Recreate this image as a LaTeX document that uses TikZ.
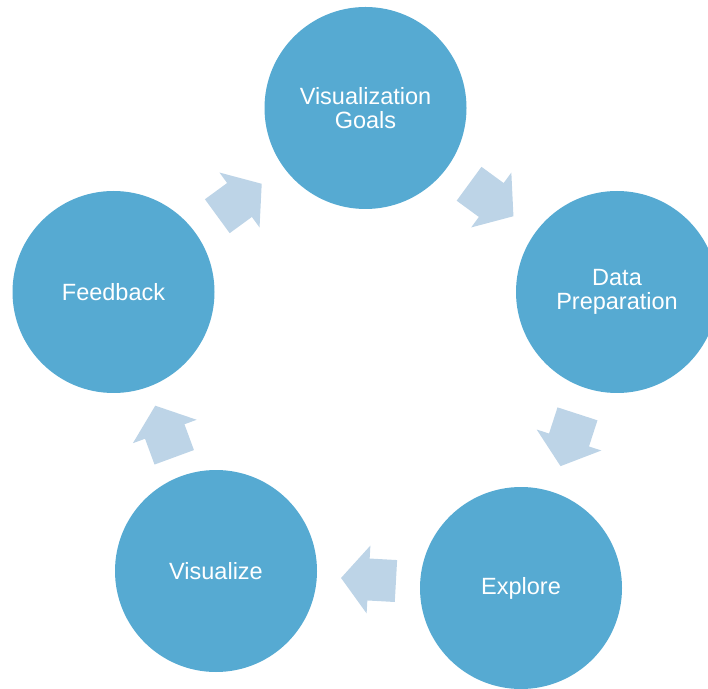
\documentclass[tikz,border=0pt]{standalone}
\usepackage{fontspec}
\setmainfont{Liberation Sans}
\usetikzlibrary{calc}
\definecolor{circblue}{RGB}{86,170,210}
\definecolor{arrblue}{RGB}{189,212,231}
\begin{document}
\begin{tikzpicture}[x=1pt,y=1pt,
  stage/.style={circle, fill=circblue, minimum size=202pt, inner sep=0pt,
    text=white, align=center, font=\fontsize{23.5}{24}\selectfont},
  cycarrow/.pic={\fill[arrblue] (-27.5,-21) -- (0,-21) -- (0,-34) -- (27.5,0)
    -- (0,34) -- (0,21) -- (-27.5,21) -- cycle;}]
\useasboundingbox (0,0) rectangle (708,688);
\clip (0,0) rectangle (708,688);
\node[stage] (goals)    at (365.5,580) {Visualization\\Goals};
\node[stage] (prep)     at (617,396)   {Data\\Preparation};
\node[stage] (explore)  at (521,100)   {Explore};
\node[stage] (vis)      at (216,117)   {Visualize};
\node[stage] (feedback) at (113.5,396) {Feedback};
\foreach \a/\b in {goals/prep, prep/explore, explore/vis, vis/feedback, feedback/goals}{
  \path let \p1=($(\b)-(\a)$), \n1={atan2(\y1,\x1)} in
    ($(\a)!0.5!(\b)$) pic[rotate=\n1] {cycarrow};
}
\end{tikzpicture}
\end{document}
